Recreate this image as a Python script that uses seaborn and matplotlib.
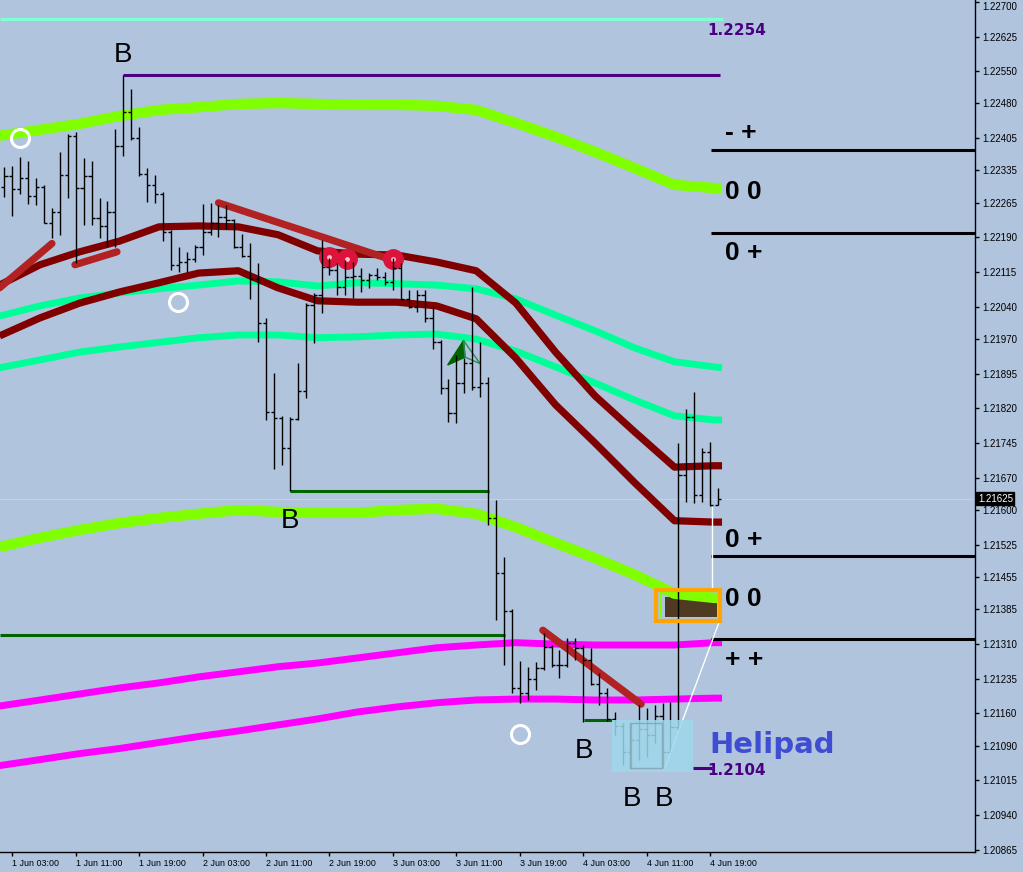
import numpy as np
import pandas as pd
import matplotlib.pyplot as plt
import matplotlib.transforms as mtransforms
from matplotlib.patches import Rectangle
import seaborn as sns

# hourly bars, hour 0 = 1 Jun 03:00
bar_hour = np.arange(-1, 90)
opens = [1.22299, 1.22323, 1.22295, 1.22319, 1.22280, 1.22299, 1.22221, 1.22245, 1.22325, 1.22410,
         1.22297, 1.22323, 1.22232, 1.22215, 1.22245, 1.22388, 1.22462, 1.22405, 1.22327, 1.22304,
         1.22284, 1.22202, 1.22131, 1.22137, 1.22144, 1.22169, 1.22202, 1.22221, 1.22234, 1.22228,
         1.22169, 1.22150, 1.22100, 1.22005, 1.21812, 1.21799, 1.21735, 1.21797, 1.21858, 1.22044,
         1.22066, 1.22126, 1.22120, 1.22083, 1.22105, 1.22107, 1.22098, 1.22109, 1.22105, 1.22094,
         1.22124, 1.22057, 1.22040, 1.22066, 1.22016, 1.21964, 1.21864, 1.21810, 1.21875, 1.21919,
         1.21867, 1.21875, 1.21583, 1.21464, 1.21382, 1.21215, 1.21204, 1.21235, 1.21258, 1.21304,
         1.21265, 1.21265, 1.21313, 1.21302, 1.21276, 1.21224, 1.21204, 1.21148, 1.21133, 1.21077,
         1.21103, 1.21126, 1.21114, 1.21155, 1.21077, 1.21131, 1.21676, 1.21802, 1.21633, 1.21726,
         1.21611]
highs = [1.22343, 1.22345, 1.22364, 1.22356, 1.22319, 1.22304, 1.22254, 1.22375, 1.22414, 1.22418,
         1.22362, 1.22356, 1.22276, 1.22269, 1.22425, 1.22542, 1.22511, 1.22429, 1.22340, 1.22325,
         1.22289, 1.22206, 1.22169, 1.22159, 1.22174, 1.22263, 1.22265, 1.22260, 1.22260, 1.22230,
         1.22198, 1.22178, 1.22135, 1.22016, 1.21897, 1.21804, 1.21802, 1.21919, 1.22048, 1.22070,
         1.22185, 1.22146, 1.22135, 1.22141, 1.22137, 1.22124, 1.22113, 1.22124, 1.22115, 1.22146,
         1.22135, 1.22076, 1.22076, 1.22076, 1.22040, 1.21968, 1.21884, 1.21936, 1.21929, 1.22083,
         1.21964, 1.21888, 1.21622, 1.21499, 1.21386, 1.21274, 1.21261, 1.21271, 1.21334, 1.21308,
         1.21297, 1.21323, 1.21323, 1.21308, 1.21302, 1.21248, 1.21215, 1.21163, 1.21139, 1.21139,
         1.21178, 1.21172, 1.21178, 1.21183, 1.21185, 1.21745, 1.21819, 1.21856, 1.21735, 1.21748,
         1.21648]
lows = [1.22278, 1.22237, 1.22284, 1.22263, 1.22260, 1.22221, 1.22189, 1.22195, 1.22276, 1.22135,
        1.22217, 1.22217, 1.22189, 1.22169, 1.22169, 1.22366, 1.22401, 1.22323, 1.22267, 1.22265,
        1.22182, 1.22120, 1.22115, 1.22115, 1.22137, 1.22152, 1.22195, 1.22191, 1.22208, 1.22167,
        1.22148, 1.22057, 1.21964, 1.21795, 1.21689, 1.21698, 1.21642, 1.21795, 1.21843, 1.21962,
        1.22027, 1.22109, 1.22066, 1.22066, 1.22059, 1.22072, 1.22081, 1.22098, 1.22087, 1.22076,
        1.22055, 1.22038, 1.22029, 1.22007, 1.21949, 1.21851, 1.21791, 1.21789, 1.21854, 1.21860,
        1.21845, 1.21568, 1.21362, 1.21265, 1.21204, 1.21183, 1.21189, 1.21211, 1.21254, 1.21261,
        1.21237, 1.21261, 1.21276, 1.21142, 1.21222, 1.21178, 1.21144, 1.21114, 1.21049, 1.21040,
        1.21059, 1.21066, 1.21096, 1.21042, 1.21075, 1.21125, 1.21618, 1.21616, 1.21618, 1.21609,
        1.21611]
closes = [1.22323, 1.22295, 1.22319, 1.22280, 1.22299, 1.22221, 1.22245, 1.22325, 1.22410, 1.22297,
          1.22323, 1.22232, 1.22215, 1.22245, 1.22388, 1.22462, 1.22405, 1.22327, 1.22304, 1.22284,
          1.22202, 1.22131, 1.22137, 1.22144, 1.22169, 1.22202, 1.22221, 1.22234, 1.22228, 1.22169,
          1.22150, 1.22100, 1.22005, 1.21812, 1.21799, 1.21735, 1.21797, 1.21858, 1.22044, 1.22066,
          1.22126, 1.22120, 1.22083, 1.22105, 1.22107, 1.22098, 1.22109, 1.22105, 1.22094, 1.22124,
          1.22057, 1.22040, 1.22066, 1.22016, 1.21964, 1.21864, 1.21810, 1.21875, 1.21919, 1.21867,
          1.21875, 1.21583, 1.21464, 1.21382, 1.21215, 1.21204, 1.21235, 1.21258, 1.21304, 1.21265,
          1.21265, 1.21313, 1.21302, 1.21276, 1.21224, 1.21204, 1.21148, 1.21133, 1.21077, 1.21103,
          1.21126, 1.21114, 1.21155, 1.21077, 1.21131, 1.21676, 1.21802, 1.21633, 1.21726, 1.21611,
          1.21625]

# indicator bands, read every 5 hours
curve_hour = [-1.6, 3.5, 8.5, 13.5, 18.5, 23.5, 28.5, 33.5, 38.5, 43.5,
              48.5, 53.5, 58.5, 63.5, 68.5, 73.5, 78.5, 83.5, 88.5, 89.5]
upper_lime = [1.22410, 1.22423, 1.22436, 1.22453, 1.22466, 1.22472, 1.22479, 1.22481, 1.22479, 1.22477,
              1.22477, 1.22475, 1.22466, 1.22438, 1.22408, 1.22375, 1.22340, 1.22304, 1.22297, 1.22297]
upper_maroon = [1.22087, 1.22131, 1.22159, 1.22182, 1.22213, 1.22215, 1.22213, 1.22196, 1.22161, 1.22154,
                1.22152, 1.22137, 1.22118, 1.22048, 1.21942, 1.21847, 1.21769, 1.21693, 1.21696, 1.21696]
lower_maroon = [1.21977, 1.22016, 1.22048, 1.22072, 1.22092, 1.22113, 1.22118, 1.22081, 1.22053, 1.22050,
                1.22050, 1.22042, 1.22014, 1.21929, 1.21828, 1.21745, 1.21659, 1.21577, 1.21574, 1.21574]
upper_spring = [1.22020, 1.22042, 1.22059, 1.22070, 1.22079, 1.22087, 1.22096, 1.22094, 1.22085, 1.22092,
                1.22090, 1.22087, 1.22079, 1.22057, 1.22022, 1.21988, 1.21951, 1.21921, 1.21910, 1.21908]
lower_spring = [1.21908, 1.21925, 1.21942, 1.21953, 1.21963, 1.21973, 1.21979, 1.21979, 1.21973, 1.21975,
                1.21979, 1.21981, 1.21970, 1.21944, 1.21910, 1.21875, 1.21838, 1.21804, 1.21795, 1.21795]
lower_lime = [1.21520, 1.21540, 1.21557, 1.21572, 1.21583, 1.21592, 1.21600, 1.21596, 1.21594, 1.21594,
              1.21600, 1.21603, 1.21592, 1.21563, 1.21529, 1.21496, 1.21460, 1.21419, 1.21410, 1.21410]
upper_magenta = [1.21176, 1.21189, 1.21202, 1.21215, 1.21226, 1.21239, 1.21250, 1.21261, 1.21269, 1.21280,
                 1.21291, 1.21302, 1.21308, 1.21313, 1.21310, 1.21308, 1.21308, 1.21308, 1.21313, 1.21313]
lower_magenta = [1.21047, 1.21060, 1.21073, 1.21084, 1.21097, 1.21110, 1.21122, 1.21135, 1.21148, 1.21163,
                 1.21174, 1.21183, 1.21189, 1.21191, 1.21191, 1.21189, 1.21189, 1.21191, 1.21193, 1.21193]

# drawn objects
trend_hour = [(-1.6, 5.0), (7.9, 13.2), (26.0, 48.3), (66.9, 79.3)]
trend_price = [(1.22081, 1.22177), (1.22131, 1.22159), (1.22265, 1.22139), (1.21340, 1.21180)]
support_price = [1.21642, 1.21330, 1.21146]
support_from = [35.0, -1.6, 72.1]
support_to = [60.1, 62.1, 75.6]
level_price = [1.22380, 1.22200, 1.21501, 1.21321]
level_text = ['- +', '0 0', '0 +', '0 +', '0 0', '+ +']
level_text_price = [1.22416, 1.22289, 1.22157, 1.21535, 1.21408, 1.21276]
b_hour = [14.0, 35.0, 72.1, 78.1, 82.2]
b_price = [1.22585, 1.21577, 1.21079, 1.20975, 1.20975]
ring_hour = [0.97, 20.9, 64.0]
ring_price = [1.22405, 1.22050, 1.21115]
dot_hour = [39.9, 42.2, 48.0]
dot_price = [1.22148, 1.22144, 1.22144]
top_high = 1.22542
top_line = 1.22663
bottom_low = 1.2104
last_price = 1.21625

xtick_hour = list(range(0, 89, 8))
xtick_labels = ['1 Jun 03:00', '1 Jun 11:00', '1 Jun 19:00', '2 Jun 03:00', '2 Jun 11:00', '2 Jun 19:00',
                '3 Jun 03:00', '3 Jun 11:00', '3 Jun 19:00', '4 Jun 03:00', '4 Jun 11:00', '4 Jun 19:00']
ytick_vals = [1.22700, 1.22625, 1.22550, 1.22480, 1.22405, 1.22335, 1.22265, 1.22190, 1.22115,
              1.22040, 1.21970, 1.21895, 1.21820, 1.21745, 1.21670, 1.21600, 1.21525, 1.21455,
              1.21385, 1.21310, 1.21235, 1.21160, 1.21090, 1.21015, 1.20940, 1.20865]

BG = '#b0c4de'
sns.set_theme(style='ticks', rc={'axes.facecolor': BG, 'figure.facecolor': BG,
                                 'axes.edgecolor': 'black'})
plt.rcParams['font.family'] = ['Liberation Sans', 'DejaVu Sans']

fig = plt.figure(figsize=(10.23, 8.72), dpi=100)
ax = fig.add_axes([0, 20 / 872, 975 / 1023, 852 / 872])
ax.set_xlim(-1.551, 121.40)
ax.set_ylim(1.20860, 1.22704)

# current price line
ax.axhline(last_price, color='#c6d0e0', lw=0.8, zorder=1)

# bands
curves = pd.DataFrame({'hour': curve_hour, 'upper_lime': upper_lime, 'upper_maroon': upper_maroon,
                       'lower_maroon': lower_maroon, 'upper_spring': upper_spring,
                       'lower_spring': lower_spring, 'lower_lime': lower_lime,
                       'upper_magenta': upper_magenta, 'lower_magenta': lower_magenta})
bands = [('upper_lime', '#7fff00', 7.5), ('lower_lime', '#7fff00', 7.5),
         ('upper_spring', '#00ff99', 5), ('lower_spring', '#00ff99', 5),
         ('upper_maroon', '#800000', 5.2), ('lower_maroon', '#800000', 5.2),
         ('upper_magenta', '#ff00ff', 5), ('lower_magenta', '#ff00ff', 5)]

# brown block in the orange box sits under the lime band
ax.add_patch(Rectangle((82.3, 1.21369), 6.6, 0.00043, fc='#4f3b22', ec='none', zorder=1.5))
for name, col, lw in bands:
    sns.lineplot(data=curves, x='hour', y=name, color=col, lw=lw, ax=ax, estimator=None,
                 sort=False, zorder=2, solid_capstyle='butt', solid_joinstyle='round')

# top lines
ax.hlines(top_line, -1.6, 89.6, color='#7fffd4', lw=2.3, zorder=2)
ax.hlines(top_high, 14.0, 89.2, color='#4b0082', lw=2.2, zorder=2)
ax.text(91.4, 1.22637, '1.2254', color='#4b0082', fontsize=11, fontweight='bold',
        family='DejaVu Sans', ha='center', va='center', zorder=6)

# support lines
for p, a, b in zip(support_price, support_from, support_to):
    ax.hlines(p, a, b, color='#006400', lw=2.2, zorder=3)

# trend lines
for hh, pp in zip(trend_hour, trend_price):
    ax.plot(hh, pp, color='#b22222', lw=5.2, solid_capstyle='round', zorder=3)

# red markers
ax.plot(dot_hour, dot_price, 'o', color='#dc143c', ms=14, mec='#dc143c', zorder=3.5)
ax.plot(dot_hour, dot_price, 'o', color='#ffc0cb', ms=3.5, mec='none', zorder=3.6)

# arrow
ax.fill([54.9, 56.9, 57.1], [1.21914, 1.21967, 1.21931], color='#006400', zorder=3.5)
ax.plot([56.9, 59.0, 57.1, 56.9], [1.21967, 1.21917, 1.21931, 1.21967], color='#2e8b57', lw=1,
        zorder=3.5)

# OHLC bars
bh = np.asarray(bar_hour, dtype=float)
ax.vlines(bh, lows, highs, color='black', lw=1.0, zorder=4)
ax.hlines(opens, bh - 0.4, bh, color='black', lw=1.0, zorder=4)
ax.hlines(closes, bh, bh + 0.4, color='black', lw=1.0, zorder=4)

# white helper lines
ax.plot([88.2, 88.2], [1.21607, 1.21431], color='white', lw=1, zorder=4.5)
ax.plot([89.1, 82.3], [1.21356, 1.21042], color='white', lw=1, zorder=4.5)

# orange box
ax.add_patch(Rectangle((81.6, 1.21369), 0.35, 0.00056, fc='#7fff00', ec='none', zorder=2.5))
ax.add_patch(Rectangle((81.2, 1.21361), 8.0, 0.00066, fc='none', ec='#ffa500', lw=3, zorder=4.6))

# helipad box
ax.add_patch(Rectangle((75.6, 1.21033), 10.3, 0.00113, fc='#9fd8ea', ec='none', alpha=0.85,
                       zorder=5))
ax.add_patch(Rectangle((77.9, 1.21042), 4.0, 0.00097, fc='none', ec='#8aa8b8', lw=1, zorder=5.1))
ax.hlines(bottom_low + 0.00002, 85.8, 88.2, color='#4b0082', lw=2.2, zorder=5.2)
ax.text(87.7, 1.21036, '1.2104', color='#4b0082', fontsize=11, fontweight='bold',
        family='DejaVu Sans', ha='left', va='center', zorder=6)
ax.text(87.85, 1.21092, 'Helipad', color='#3f4dd2', fontsize=21, fontweight='bold',
        family='DejaVu Sans', ha='left', va='center', zorder=6)

# right side levels
ax.hlines(level_price, 88.1, 121.4, color='black', lw=2.2, zorder=3)
for t, p in zip(level_text, level_text_price):
    ax.text(89.9, p, t, fontsize=19, fontweight='bold', color='black', ha='left', va='center',
            zorder=6)

# B marks and rings
for hh, p in zip(b_hour, b_price):
    ax.text(hh, p, 'B', fontsize=20, color='black', ha='center', va='center', zorder=6)
ax.plot(ring_hour, ring_price, 'o', mfc='none', mec='white', ms=13, mew=2.2, zorder=5)

# axes styling
for s in ['top', 'left']:
    ax.spines[s].set_visible(False)
ax.spines['right'].set_linewidth(1)
ax.spines['bottom'].set_linewidth(1)
ax.yaxis.tick_right()
ax.set_yticks(ytick_vals)
ax.set_yticklabels([f'{v:.5f}' for v in ytick_vals])
ax.set_xticks(xtick_hour)
ax.set_xticklabels(xtick_labels)
for lab in ax.get_xticklabels():
    lab.set_ha('left')
ax.tick_params(axis='x', direction='out', length=3, width=1, pad=2, labelsize=6.4, colors='black')
ax.tick_params(axis='y', direction='out', length=3, width=1, pad=2, labelsize=7, colors='black')
ax.set_xlabel('')
ax.set_ylabel('')

# keep the topmost price label inside the canvas
top_lab = ax.get_yticklabels()[0]
top_lab.set_transform(top_lab.get_transform() +
                      mtransforms.ScaledTranslation(0, -3 / 72, fig.dpi_scale_trans))

ax.text(1.003, last_price, '1.21625', transform=ax.get_yaxis_transform(), color='white',
        fontsize=7, ha='left', va='center', clip_on=False, zorder=7,
        bbox=dict(boxstyle='square,pad=0.15', fc='black', ec='black'))

fig.savefig('out.png', dpi=100, facecolor=BG)
